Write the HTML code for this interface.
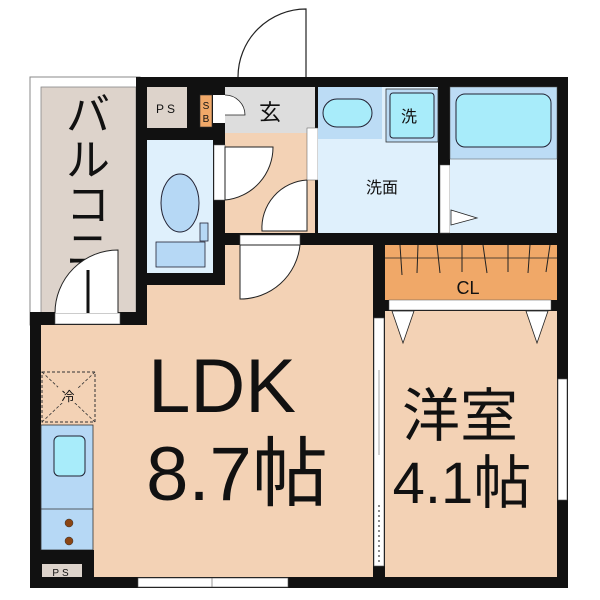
<!DOCTYPE html>
<html><head><meta charset="utf-8"><style>
html,body{margin:0;padding:0;background:#fff;width:600px;height:600px;overflow:hidden}
svg{display:block}
text{font-family:"Liberation Sans","Noto Sans CJK JP",sans-serif;fill:#111}
</style></head><body>
<svg width="600" height="600" viewBox="0 0 600 600">
<rect width="600" height="600" fill="#fff"/>
<path d="M238 77 A68 68 0 0 1 306 9 L306 77" fill="#fff" stroke="#222" stroke-width="1.2"/>
<rect x="30" y="77" width="110" height="248" fill="#fff" stroke="#888" stroke-width="1"/>
<rect x="41" y="87" width="95" height="228" fill="#ddd3cb" stroke="#888" stroke-width="0.8"/>
<text font-size="44" text-anchor="middle" x="88"><tspan x="88" y="130">バ</tspan><tspan x="88" y="175">ル</tspan><tspan x="88" y="220">コ</tspan><tspan x="88" y="265">ニ</tspan></text>
<rect x="136" y="77" width="432" height="511" fill="#111"/>
<rect x="30" y="312" width="120" height="276" fill="#111"/>
<path d="M41 325 L147 325 L147 285 L225 285 L225 245 L373 245 L373 577 L41 577 Z" fill="#f3d2b5"/>
<rect x="55" y="313" width="65" height="11" fill="#fff" stroke="#555" stroke-width="0.6"/>
<path d="M55 313 A63 63 0 0 1 118 250 L118 313" fill="#fff" stroke="#222" stroke-width="1"/>
<line x1="88" y1="270" x2="88" y2="313" stroke="#111" stroke-width="3"/>
<rect x="147" y="87" width="40" height="41" fill="#ddd3cb"/>
<text x="167" y="113" font-size="12" text-anchor="middle" letter-spacing="3">PS</text>
<rect x="200" y="95" width="12" height="32" fill="#f0a868" stroke="#333" stroke-width="0.6"/>
<text x="206" y="109" font-size="10" text-anchor="middle">S</text>
<text x="206" y="122" font-size="10" text-anchor="middle">B</text>
<rect x="225" y="87" width="90" height="46" fill="#ddd"/>
<rect x="213" y="95" width="12" height="28" fill="#fff"/>
<path d="M225 95 A20 20 0 0 1 245 115 L225 115" fill="#fff" stroke="#222" stroke-width="0.8"/>
<text x="270" y="120" font-size="22" text-anchor="middle">玄</text>
<rect x="225" y="133" width="90" height="100" fill="#f3d2b5"/>
<rect x="214" y="145" width="11" height="55" fill="#fff" stroke="#555" stroke-width="0.5"/>
<path d="M225 200 A53 53 0 0 0 273 147 L225 147 Z" fill="#fff" stroke="#222" stroke-width="1"/>
<path d="M262 231 A48 48 0 0 1 307 180 L307 231 Z" fill="#fff" stroke="#222" stroke-width="1"/>
<rect x="307" y="128" width="11" height="52" fill="#fff" stroke="#555" stroke-width="0.5"/>
<rect x="147" y="140" width="66" height="133" fill="#dff0fc"/>
<ellipse cx="180" cy="203" rx="19" ry="29" fill="#b6d8f5" stroke="#223" stroke-width="1"/>
<rect x="200" y="223" width="8" height="18" fill="#b6d8f5" stroke="#223" stroke-width="0.8"/>
<rect x="156" y="242" width="49" height="25" fill="#b6d8f5" stroke="#223" stroke-width="0.8"/>
<rect x="240" y="235" width="60" height="10" fill="#fff" stroke="#555" stroke-width="0.6"/>
<path d="M240 245 L300 245 A60 60 0 0 1 240 299 Z" fill="#fff" stroke="#222" stroke-width="1"/>
<rect x="318" y="87" width="120" height="146" fill="#dff0fc"/>
<rect x="318" y="87" width="64" height="52" fill="#bcdcf5"/>
<rect x="323" y="99" width="49" height="28" rx="14" fill="#a8ecfa" stroke="#223" stroke-width="1"/>
<rect x="386" y="89" width="52" height="53" fill="#bcdcf5" stroke="#333" stroke-width="0.8"/>
<rect x="390" y="93" width="44" height="45" rx="3" fill="#a8ecfa" stroke="#223" stroke-width="1"/>
<text x="409" y="122" font-size="16" text-anchor="middle">洗</text>
<text x="382" y="193" font-size="16" text-anchor="middle">洗面</text>
<rect x="440" y="165" width="10" height="68" fill="#fff" stroke="#555" stroke-width="0.5"/>
<rect x="450" y="87" width="107" height="146" fill="#dff0fc"/>
<rect x="450" y="87" width="107" height="72" fill="#bcdcf5" stroke="#555" stroke-width="0.5"/>
<rect x="456" y="94" width="95" height="53" rx="9" fill="#a8ecfa" stroke="#223" stroke-width="1"/>
<path d="M451 210 L477 218 L451 225 Z" fill="#fff" stroke="#222" stroke-width="0.8"/>
<rect x="385" y="245" width="172" height="55" fill="#f0a868"/>
<line x1="385" y1="258" x2="557" y2="258" stroke="#222" stroke-width="0.8"/>
<g stroke="#222" stroke-width="1">
<line x1="400" y1="245" x2="402" y2="275"/><line x1="418" y1="245" x2="417" y2="273"/><line x1="437" y1="245" x2="440" y2="273"/><line x1="462" y1="245" x2="462" y2="272"/><line x1="483" y1="245" x2="487" y2="273"/><line x1="508" y1="245" x2="508" y2="272"/><line x1="530" y1="245" x2="528" y2="273"/><line x1="550" y1="245" x2="546" y2="272"/>
</g>
<text x="468" y="294" font-size="18" text-anchor="middle">CL</text>
<rect x="389" y="300" width="162" height="10" fill="#fff" stroke="#555" stroke-width="0.5"/>
<rect x="385" y="311" width="172" height="266" fill="#f3d2b5"/>
<path d="M392 311 L414 311 L403 343 Z" fill="#fff" stroke="#222" stroke-width="0.8"/>
<path d="M526 311 L548 311 L537 343 Z" fill="#fff" stroke="#222" stroke-width="0.8"/>
<rect x="374" y="318" width="10" height="248" fill="#fff" stroke="#555" stroke-width="0.6"/>
<line x1="379" y1="370" x2="379" y2="455" stroke="#666" stroke-width="0.6"/>
<line x1="379" y1="505" x2="379" y2="565" stroke="#666" stroke-width="1.5" stroke-dasharray="2 3"/>
<rect x="558" y="379" width="9" height="121" fill="#fff" stroke="#555" stroke-width="0.6"/>
<text x="460" y="436" font-size="58" text-anchor="middle">洋室</text>
<text x="462" y="503" font-size="58" text-anchor="middle">4.1帖</text>
<text x="222" y="412" font-size="76" text-anchor="middle">LDK</text>
<text x="237" y="500" font-size="76" text-anchor="middle">8.7帖</text>
<rect x="42" y="372" width="53" height="50" fill="none" stroke="#333" stroke-width="1" stroke-dasharray="3 2"/>
<line x1="42" y1="372" x2="95" y2="422" stroke="#333" stroke-width="0.8" stroke-dasharray="3 2"/>
<line x1="95" y1="372" x2="42" y2="422" stroke="#333" stroke-width="0.8" stroke-dasharray="3 2"/>
<rect x="58" y="387" width="20" height="16" fill="#f3d2b5"/>
<text x="68" y="401" font-size="13" text-anchor="middle">冷</text>
<rect x="41" y="425" width="52" height="125" fill="#b6d8f5" stroke="#333" stroke-width="0.8"/>
<line x1="41" y1="509" x2="93" y2="509" stroke="#333" stroke-width="0.8"/>
<rect x="54" y="436" width="31" height="40" rx="5" fill="#a8ecfa" stroke="#223" stroke-width="1"/>
<circle cx="69" cy="523" r="4" fill="#8b4513" stroke="#333" stroke-width="0.5"/>
<circle cx="69" cy="541" r="4" fill="#8b4513" stroke="#333" stroke-width="0.5"/>
<rect x="41" y="550" width="53" height="27" fill="#111"/>
<rect x="42" y="564" width="40" height="13" fill="#ddd3cb"/>
<text x="62" y="576" font-size="10" text-anchor="middle" letter-spacing="3">PS</text>
<rect x="138" y="578" width="150" height="9" fill="#fff" stroke="#555" stroke-width="0.6"/>
<line x1="212" y1="578" x2="212" y2="587" stroke="#555" stroke-width="0.6"/>
</svg>
</body></html>
